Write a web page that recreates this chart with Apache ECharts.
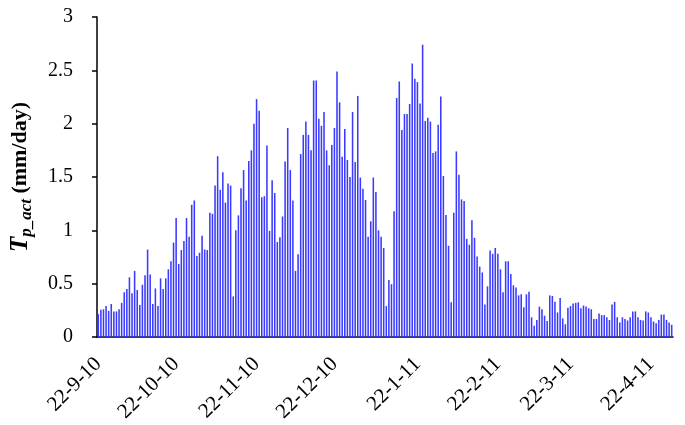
<!DOCTYPE html>
<html>
<head>
<meta charset="utf-8">
<script src="https://cdn.jsdelivr.net/npm/echarts@6/dist/echarts.min.js"></script>
<style>
  html, body { margin: 0; padding: 0; background: #fff; }
  #chart { width: 685px; height: 425px; }
</style>
</head>
<body>
<div id="chart"></div>
<script>
// daily actual transpiration, mm/day, from 22-9-10 onwards
var tpAct = [
  0.215, 0.255, 0.26, 0.29, 0.245, 0.31, 0.24, 0.24, 0.26, 0.32,
  0.42, 0.45, 0.56, 0.41, 0.62, 0.44, 0.30, 0.49, 0.58, 0.82,
  0.585, 0.31, 0.455, 0.29, 0.55,
  0.45, 0.55, 0.635, 0.71, 0.885, 1.115, 0.685, 0.815, 0.90, 1.115,
  0.94, 1.24, 1.28, 0.76, 0.79, 0.95, 0.82, 0.815, 1.165, 1.155,
  1.42, 1.695, 1.38, 1.545, 1.26, 1.44, 1.42, 0.38, 1.00, 1.14,
  1.395, 1.565, 1.28, 1.65,
  1.75, 2.0, 2.23, 2.12, 1.31, 1.32, 1.795, 0.995, 1.47, 1.35,
  0.89, 0.935, 1.13, 1.645, 1.96, 1.565, 1.28, 0.62, 0.775, 1.715,
  1.895, 2.02, 1.895, 1.75, 2.405, 2.405, 2.045, 1.98, 2.11, 1.75,
  1.61, 1.80, 1.96, 2.49, 2.2, 1.69, 1.95, 1.66, 1.50,
  2.11, 1.64, 2.26, 1.495, 1.39, 1.285, 0.94, 1.085, 1.495, 1.36,
  1.00, 0.94, 0.835, 0.29, 0.535, 0.495, 1.18, 2.24, 2.395, 1.94,
  2.09, 2.09, 2.185, 2.565, 2.42, 2.39, 2.19, 2.74, 2.025, 2.055,
  2.02, 1.725, 1.74, 1.99, 2.255, 1.51, 1.145, 0.855, 0.325, 1.165,
  1.74, 1.52, 1.29, 1.275, 0.92, 0.865, 1.095, 0.93, 0.755, 0.66,
  0.605, 0.305, 0.475, 0.81, 0.78, 0.835, 0.78, 0.635, 0.42, 0.71,
  0.71, 0.59, 0.485, 0.465, 0.39,
  0.40, 0.28, 0.40, 0.425, 0.185, 0.105, 0.16, 0.285, 0.26, 0.20,
  0.15, 0.39, 0.385, 0.33, 0.23, 0.365, 0.175, 0.12, 0.275, 0.29,
  0.315, 0.32, 0.325, 0.27, 0.295, 0.285, 0.27, 0.26, 0.17, 0.17,
  0.22,
  0.205, 0.205, 0.185, 0.16, 0.305, 0.33, 0.185, 0.135, 0.185, 0.17,
  0.155, 0.185, 0.24, 0.24, 0.185, 0.16, 0.155, 0.24, 0.23, 0.185,
  0.145, 0.13, 0.16, 0.21, 0.21, 0.16, 0.135, 0.115
];

var tickLabels = ['22-9-10', '22-10-10', '22-11-10', '22-12-10',
                  '22-1-11', '22-2-11', '22-3-11', '22-4-11'];

var yTicks = [0, 0.5, 1, 1.5, 2, 2.5, 3];

// one category per day, labelled like the original (year kept as 22)
var days = [];
var d0 = Date.UTC(2022, 8, 10);
for (var i = 0; i < tpAct.length; i++) {
  var dt = new Date(d0 + i * 86400000);
  days.push('22-' + (dt.getUTCMonth() + 1) + '-' + dt.getUTCDate());
}

function isTick(idx, val) {
  return tickLabels.indexOf(days[idx]) >= 0;
}

var serif = '"Liberation Serif", "Times New Roman", serif';

var chart = echarts.init(document.getElementById('chart'));
chart.setOption({
  animation: false,
  grid: { left: 93, right: 12, top: 17, bottom: 87 },
  xAxis: {
    type: 'category',
    data: days,
    boundaryGap: true,
    axisLine: { lineStyle: { color: '#000', width: 1.5 } },
    axisTick: { interval: isTick, length: 5, lineStyle: { color: '#000', width: 1.5 } },
    axisLabel: {
      interval: isTick,
      rotate: 45,
      margin: 24,
      color: '#000',
      fontFamily: serif,
      fontSize: 21
    }
  },
  yAxis: {
    type: 'value',
    min: yTicks[0],
    max: yTicks[yTicks.length - 1],
    interval: 0.5,
    splitLine: { show: false },
    axisLine: { show: true, lineStyle: { color: '#000', width: 1.5 } },
    axisTick: { show: true, length: 5, lineStyle: { color: '#000', width: 1.5 } },
    axisLabel: {
      margin: 24,
      color: '#000',
      fontFamily: serif,
      fontSize: 20
    },
    name: '{t|T}{s|p_act}{u| (mm/day)}',
    nameLocation: 'middle',
    nameRotate: 90,
    nameGap: 62,
    nameTextStyle: {
      rich: {
        t: { fontFamily: serif, fontSize: 25, fontWeight: 'bold', fontStyle: 'italic', color: '#000' },
        s: { fontFamily: serif, fontSize: 17, fontWeight: 'bold', fontStyle: 'italic', color: '#000',
             verticalAlign: 'bottom', padding: [12, 0, 0, 0] },
        u: { fontFamily: serif, fontSize: 22, fontWeight: 'bold', color: '#000' }
      }
    }
  },
  series: [{
    type: 'bar',
    data: tpAct,
    barCategoryGap: '40%',
    itemStyle: { color: '#3b3bff' }
  }]
});
</script>
</body>
</html>
